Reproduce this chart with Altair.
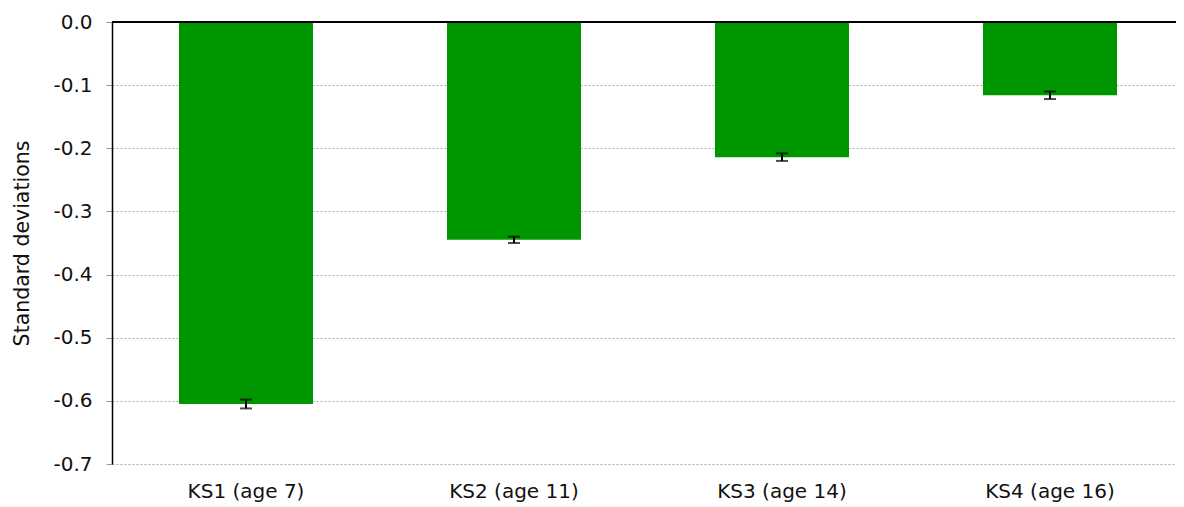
import altair as alt
import pandas as pd

stages = ["KS1 (age 7)", "KS2 (age 11)", "KS3 (age 14)", "KS4 (age 16)"]
values = [-0.605, -0.345, -0.214, -0.116]
errors = [0.007, 0.005, 0.006, 0.006]
y_ticks = [0.0, -0.1, -0.2, -0.3, -0.4, -0.5, -0.6, -0.7]

df = pd.DataFrame({
    "stage": stages,
    "value": values,
    "lo": [v - e for v, e in zip(values, errors)],
    "hi": [v + e for v, e in zip(values, errors)],
})

FONT = "DejaVu Sans"

x_scale = alt.Scale(paddingInner=0.5, paddingOuter=0.25, range=[0, 1072])

x = alt.X("stage:N", sort=stages, title=None, scale=x_scale,
          axis=alt.Axis(labelAngle=0, ticks=False, domain=False, grid=False,
                        labelFontSize=20, labelFont=FONT, labelColor="#111",
                        labelPadding=17))

base = alt.Chart(df)

bars = base.mark_bar(color="#009600").encode(
    x=x,
    y=alt.Y("value:Q", title="Standard deviations",
            scale=alt.Scale(domain=[-0.7, 0.0], nice=False),
            axis=alt.Axis(values=y_ticks,
                          labelExpr="replace(format(datum.value, '.1f'), '\u2212', '-')",
                          labelFontSize=20, labelFont=FONT,
                          labelColor="#111", tickColor="#999", tickSize=6,
                          labelPadding=14, domainColor="#000", domainWidth=1.5,
                          gridColor="#aaa", gridDash=[2, 2], gridWidth=1,
                          titleFont=FONT, titleFontSize=20.5, titleFontWeight="normal",
                          titleColor="#111", titlePadding=20)),
)

err = base.mark_rule(color="black", strokeWidth=2).encode(
    x=alt.X("stage:N", sort=stages, scale=x_scale), y="lo:Q", y2="hi:Q")

caps_lo = base.mark_tick(color="black", thickness=2, size=12).encode(
    x=alt.X("stage:N", sort=stages, scale=x_scale), y="lo:Q")
caps_hi = base.mark_tick(color="black", thickness=2, size=12).encode(
    x=alt.X("stage:N", sort=stages, scale=x_scale), y="hi:Q")

zero = alt.Chart(pd.DataFrame({"z": [0.0]})).mark_rule(color="black", strokeWidth=2).encode(
    y="z:Q")

chart = alt.layer(bars, err, caps_lo, caps_hi, zero).properties(
    width=1064, height=442,
    padding={"left": 104, "top": 14, "right": 0, "bottom": 43},
    autosize=alt.AutoSizeParams(type="none"),
).configure_view(stroke=None)

chart.save("out.html", embed_options={"renderer": "svg", "actions": False})
